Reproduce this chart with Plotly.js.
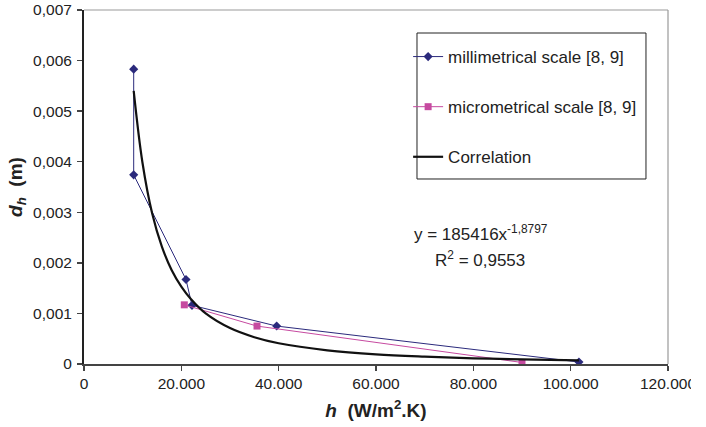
<!DOCTYPE html>
<html>
<head>
<meta charset="utf-8">
<script src="https://cdn.plot.ly/plotly-3.0.1.min.js"></script>
<style>html,body{margin:0;padding:0;background:#fff;}#chart{width:706px;height:427px;}</style>
</head>
<body>
<div id="chart"></div>
<script>
// Data
var milliX = [10210, 10210, 20960, 22190, 39590, 101700];
var milliY = [0.00583, 0.00374, 0.00167, 0.00116, 0.00075, 0.00004];

var microX = [20610, 35550, 90000];
var microY = [0.00117, 0.00075, 0.00003];

// Points read along the black correlation (trend) curve
var corrX = [10210, 12000, 14000, 16000, 18000, 20000, 22000, 25000, 30000, 35000, 40000, 50000, 60000, 70000, 80000, 90000, 101700];
var corrY = [0.00540, 0.00399, 0.00298, 0.00232, 0.00186, 0.00153, 0.00128, 0.00100, 0.00071, 0.00053, 0.00041, 0.00027, 0.00019, 0.000145, 0.000113, 0.000090, 0.000072];

var seriesNames = ['millimetrical scale [8, 9]', 'micrometrical scale [8, 9]', 'Correlation'];
var eqText = 'y = 185416x<sup>-1,8797</sup>';
var r2Text = 'R<sup>2</sup> = 0,9553';

var FONT = 'Liberation Sans, Arial, sans-serif';

var traces = [
  {x: milliX, y: milliY, name: seriesNames[0], type: 'scatter', mode: 'lines+markers',
   line: {color: '#2b2a7c', width: 1}, marker: {symbol: 'diamond', size: 7, color: '#2b2a7c'},
   legendgroup: 'a'},
  {x: microX, y: microY, name: seriesNames[1], type: 'scatter', mode: 'lines+markers',
   line: {color: '#c64aa0', width: 1}, marker: {symbol: 'square', size: 7, color: '#c64aa0'},
   legendgroup: 'b'},
  {x: corrX, y: corrY, name: seriesNames[2], type: 'scatter', mode: 'lines',
   line: {color: '#111111', width: 2.2, shape: 'spline', smoothing: 1}, legendgroup: 'c'}
];

var layout = {
  width: 706, height: 427,
  margin: {l: 84, r: 38, t: 10, b: 63},
  paper_bgcolor: '#ffffff', plot_bgcolor: '#ffffff',
  separators: ',.',
  font: {family: FONT, color: '#222', size: 15.5},
  showlegend: true,
  legend: {
    x: 0.555, y: 0.918, xanchor: 'left', yanchor: 'top',
    bgcolor: 'rgba(0,0,0,0)', borderwidth: 0,
    font: {family: FONT, size: 17, color: '#222'},
    traceorder: 'grouped', tracegroupgap: 25
  },
  xaxis: {
    range: [0, 120000], dtick: 20000, tick0: 0, tickformat: ',.0f',
    showgrid: false, zeroline: false,
    showline: true, linecolor: '#444', linewidth: 1.5,
    ticks: 'outside', ticklen: 5, tickcolor: '#444', tickwidth: 1.5,
    tickfont: {family: FONT, size: 15.5, color: '#222'},
    title: {text: '<b><i>h</i>  (W/m<sup>2</sup>.K)</b>', font: {family: FONT, size: 19, color: '#222'}, standoff: 12}
  },
  yaxis: {
    range: [0, 0.007], dtick: 0.001, tick0: 0,
    showgrid: false, zeroline: false,
    showline: true, linecolor: '#222', linewidth: 2,
    ticks: 'outside', ticklen: 5, tickcolor: '#444', tickwidth: 1.5, ticklabelstandoff: 2,
    tickfont: {family: FONT, size: 15.5, color: '#222'},
    title: {text: '<b><i>d</i><sub><i>h</i></sub>  (m)</b>', font: {family: FONT, size: 19, color: '#222'}, standoff: 5}
  },
  shapes: [
    {type: 'line', xref: 'paper', yref: 'paper', x0: 0, x1: 1, y0: 1, y1: 1, line: {color: '#999', width: 1.2}},
    {type: 'line', xref: 'paper', yref: 'paper', x0: 1, x1: 1, y0: 0, y1: 1, line: {color: '#999', width: 1.2}},
    {type: 'rect', xref: 'paper', yref: 'paper', x0: 0.5702, x1: 0.9623, y0: 0.5226, y1: 0.935,
     line: {color: '#222', width: 1}, fillcolor: 'rgba(0,0,0,0)', layer: 'below'},
    {type: 'rect', xref: 'paper', yref: 'paper', x0: (691 - 84) / 584, x1: (720 - 84) / 584, y0: -0.03, y1: -0.12,
     line: {width: 0}, fillcolor: '#ffffff', layer: 'above'}
  ],
  annotations: [
    {xref: 'paper', yref: 'paper', x: (481 - 84) / 584, y: (364 - 233) / 354, text: eqText, showarrow: false,
     xanchor: 'center', yanchor: 'middle', font: {family: FONT, size: 17, color: '#222'}},
    {xref: 'paper', yref: 'paper', x: (480 - 84) / 584, y: (364 - 259) / 354, text: r2Text, showarrow: false,
     xanchor: 'center', yanchor: 'middle', font: {family: FONT, size: 17, color: '#222'}}
  ]
};

Plotly.newPlot('chart', traces, layout, {displayModeBar: false, staticPlot: true});
</script>
</body>
</html>
